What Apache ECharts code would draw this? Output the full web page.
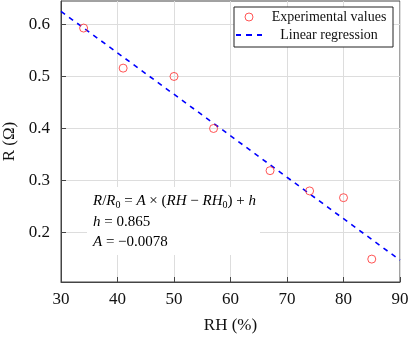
<!DOCTYPE html>
<html>
<head>
<meta charset="utf-8">
<script src="https://cdn.jsdelivr.net/npm/echarts@6/dist/echarts.min.js"></script>
<style>
  html, body { margin: 0; padding: 0; background: #fff; }
  #main { width: 415px; height: 340px; }
</style>
</head>
<body>
<div id="main"></div>
<script>
// measured humidity (%) and resistance (ohm)
var rhValues = [34, 41, 50, 57, 67, 74, 80, 85];
var rValues = [0.593, 0.516, 0.5, 0.4, 0.319, 0.28, 0.267, 0.149];
// regression line end points
var fitX = [30, 90];
var fitY = [0.625, 0.147];
var yTicks = [0.2, 0.3, 0.4, 0.5, 0.6];

var serif = "'Liberation Serif', 'DejaVu Serif', serif";

// rich styles for the formula box
var mathRich = {
    i: { fontFamily: serif, fontSize: 15, fontStyle: 'italic', color: '#111' },
    n: { fontFamily: serif, fontSize: 15, color: '#111' },
    s: { fontFamily: serif, fontSize: 10, color: '#111', padding: [8, 0, 0, 0] }
};

var myChart = echarts.init(document.getElementById('main'));

myChart.setOption({
    animation: false,
    backgroundColor: '#fff',
    grid: {
        left: 61, right: 15, top: 1, bottom: 58,
        outerBoundsMode: 'none',
        show: true,
        borderColor: '#444',
        borderWidth: 1
    },
    legend: {
        right: 22,
        top: 7,
        orient: 'vertical',
        backgroundColor: '#fff',
        borderColor: '#222',
        borderWidth: 1,
        borderRadius: 0,
        padding: [3, 2, 5, 2],
        itemGap: 4,
        itemWidth: 26,
        itemHeight: 8,
        formatter: '{c|{name}}',
        textStyle: {
            fontFamily: serif, fontSize: 14, color: '#111',
            rich: { c: { width: 124, align: 'center', lineHeight: 16, fontFamily: serif, fontSize: 14 } }
        },
        data: [
            {
                name: 'Experimental values',
                icon: 'circle',
                itemStyle: { color: 'transparent', borderColor: '#ff2a2a', borderWidth: 1 }
            },
            {
                name: 'Linear regression',
                icon: 'path://M0,0h5v2h-5zM10,0h6v2h-6zM21,0h5v2h-5z',
                itemStyle: { color: '#0000ff', borderWidth: 0 }
            }
        ]
    },
    xAxis: {
        type: 'value',
        min: 30,
        max: 90,
        interval: 10,
        name: 'RH (%)',
        nameLocation: 'middle',
        nameGap: 35,
        nameTextStyle: { fontFamily: serif, fontSize: 17, color: '#111' },
        axisLine: { lineStyle: { color: '#444' } },
        axisTick: { inside: true, length: 5, lineStyle: { color: '#444' } },
        axisLabel: { fontFamily: serif, fontSize: 17, color: '#111', margin: 9 },
        splitLine: { lineStyle: { color: '#ddd' } }
    },
    yAxis: {
        type: 'value',
        min: 0.105,
        max: 0.645,
        name: 'R (Ω)',
        nameLocation: 'middle',
        nameGap: 41,
        nameTextStyle: { fontFamily: serif, fontSize: 17, color: '#111' },
        axisLine: { show: true, lineStyle: { color: '#444' } },
        axisTick: { inside: true, length: 5, customValues: yTicks, lineStyle: { color: '#444' } },
        axisLabel: { fontFamily: serif, fontSize: 17, color: '#111', margin: 11, customValues: yTicks },
        splitLine: { lineStyle: { color: '#ddd' } }
    },
    graphic: [
        {
            type: 'rect',
            z: 1,
            shape: { x: 87, y: 187, width: 173, height: 68 },
            style: { fill: '#fff' }
        },
        {
            type: 'text',
            z: 2,
            left: 93, top: 194,
            style: {
                text: '{i|R}{n|/}{i|R}{s|0}{n| = }{i|A}{n| × (}{i|RH}{n| − }{i|RH}{s|0}{n|) + }{i|h}',
                rich: mathRich
            }
        },
        {
            type: 'text',
            z: 2,
            left: 93, top: 215,
            style: { text: '{i|h}{n| = 0.865}', rich: mathRich }
        },
        {
            type: 'text',
            z: 2,
            left: 93, top: 235,
            style: { text: '{i|A}{n| = −0.0078}', rich: mathRich }
        }
    ],
    series: [
        {
            name: 'Experimental values',
            type: 'scatter',
            symbol: 'circle',
            symbolSize: 8,
            itemStyle: { color: 'transparent', borderColor: '#ff2a2a', borderWidth: 1 },
            data: rhValues.map(function (x, i) { return [x, rValues[i]]; }),
            z: 3
        },
        {
            name: 'Linear regression',
            type: 'line',
            showSymbol: false,
            symbol: 'none',
            lineStyle: { color: '#0000ff', width: 1.6, type: [5, 5] },
            data: fitX.map(function (x, i) { return [x, fitY[i]]; }),
            z: 3
        }
    ]
});
</script>
</body>
</html>
